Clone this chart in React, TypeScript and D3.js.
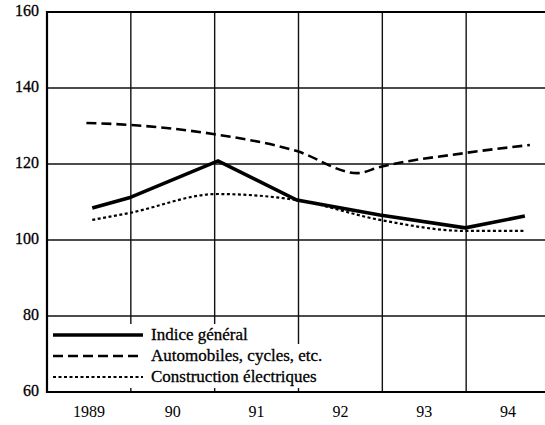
import React, { useEffect, useRef } from "react"
import * as d3 from "d3"

// years as fractional positions (grid lines are year boundaries)
const yearsGeneral = [1989.54, 1989.98, 1991.04, 1991.98, 1992.97, 1993.99, 1994.7]
const indiceGeneral = [108.4, 111.1, 120.8, 110.5, 106.6, 103.2, 106.3]

const yearsAuto = [1989.47, 1989.98, 1990.98, 1991.98, 1992.7, 1992.97, 1993.99, 1994.76]
const automobiles = [130.8, 130.3, 127.9, 123.4, 117.6, 119.2, 122.9, 125.0]

const yearsElec = [1989.54, 1989.98, 1991.03, 1991.98, 1992.97, 1993.99, 1994.7]
const electriques = [105.3, 107.1, 112.1, 110.5, 105.3, 102.4, 102.4]

const yearLabels = ["1989", "90", "91", "92", "93", "94"]
const yTicks = [60, 80, 100, 120, 140, 160]
const legendLabels = ["Indice général", "Automobiles, cycles, etc.", "Construction électriques"]

const W = 545
const H = 425
const FONT = "Liberation Serif, Tinos, Times New Roman, Times, DejaVu Serif, serif"

export default function App() {
  const ref = useRef<SVGSVGElement>(null)

  useEffect(() => {
    const svg = d3.select(ref.current)
    svg.selectAll("*").remove()

    const x = d3.scaleLinear().domain([1989, 1995]).range([47, 550])
    const y = d3.scaleLinear().domain([60, 160]).range([392, 12])

    const g = svg.append("g")

    // grid
    g.selectAll(".hgrid")
      .data(yTicks.filter(d => d > 60 && d < 160))
      .enter()
      .append("line")
      .attr("x1", x(1989))
      .attr("x2", W + 10)
      .attr("y1", d => y(d))
      .attr("y2", d => y(d))
      .attr("stroke", "#111")
      .attr("stroke-width", 1.4)

    g.selectAll(".vgrid")
      .data(d3.range(1990, 1996))
      .enter()
      .append("line")
      .attr("x1", d => x(d))
      .attr("x2", d => x(d))
      .attr("y1", y(160))
      .attr("y2", y(60))
      .attr("stroke", "#111")
      .attr("stroke-width", 1.4)

    // series
    const series = [
      { xs: yearsGeneral, vs: indiceGeneral, width: 3.6, dash: null, curve: d3.curveLinear },
      { xs: yearsAuto, vs: automobiles, width: 2.6, dash: "10,5", curve: d3.curveMonotoneX },
      { xs: yearsElec, vs: electriques, width: 2.2, dash: "3,2.5", curve: d3.curveMonotoneX },
    ]

    series.forEach(s => {
      const line = d3
        .line<number>()
        .x((d, i) => x(s.xs[i]))
        .y(d => y(d))
        .curve(s.curve)
      g.append("path")
        .datum(s.vs)
        .attr("d", line)
        .attr("fill", "none")
        .attr("stroke", "#000")
        .attr("stroke-width", s.width)
        .attr("stroke-dasharray", s.dash)
    })

    // legend with white backing over the grid
    const leg = g.append("g")
    leg.append("rect").attr("x", 49).attr("y", 324).attr("width", 205).attr("height", 22).attr("fill", "#fff")
    leg.append("rect").attr("x", 49).attr("y", 344).attr("width", 290).attr("height", 44).attr("fill", "#fff")

    const rowY = [335, 356, 377]
    legendLabels.forEach((lab, i) => {
      const s = series[i]
      leg.append("line")
        .attr("x1", 53)
        .attr("x2", 143)
        .attr("y1", rowY[i])
        .attr("y2", rowY[i])
        .attr("stroke", "#000")
        .attr("stroke-width", s.width)
        .attr("stroke-dasharray", s.dash)
      leg.append("text")
        .attr("x", 151)
        .attr("y", rowY[i] + 5)
        .attr("font-family", FONT)
        .attr("font-size", 17)
        .attr("fill", "#000")
        .attr("stroke", "#000")
        .attr("stroke-width", 0.3)
        .text(lab)
    })

    // frame
    g.append("line").attr("x1", x(1989)).attr("x2", W + 10).attr("y1", y(160)).attr("y2", y(160))
      .attr("stroke", "#000").attr("stroke-width", 2)
    g.append("line").attr("x1", x(1989)).attr("x2", W + 10).attr("y1", y(60)).attr("y2", y(60))
      .attr("stroke", "#000").attr("stroke-width", 2)
    g.append("line").attr("x1", x(1989)).attr("x2", x(1989)).attr("y1", y(160) - 1).attr("y2", y(60) + 1)
      .attr("stroke", "#000").attr("stroke-width", 2.2)

    // y labels
    g.selectAll(".ylab")
      .data(yTicks)
      .enter()
      .append("text")
      .attr("x", 39)
      .attr("y", d => y(d) + 4)
      .attr("text-anchor", "end")
      .attr("font-family", FONT)
      .attr("font-size", 16)
      .attr("fill", "#000")
      .attr("stroke", "#000")
      .attr("stroke-width", 0.3)
      .text(d => d)

    // x labels centred in each year
    g.selectAll(".xlab")
      .data(yearLabels)
      .enter()
      .append("text")
      .attr("x", (d, i) => x(1989 + i + 0.5))
      .attr("y", 417)
      .attr("text-anchor", "middle")
      .attr("font-family", FONT)
      .attr("font-size", 16)
      .attr("fill", "#000")
      .text(d => d)
  }, [])

  return (
    <svg
      ref={ref}
      width={W}
      height={H}
      style={{ position: "absolute", left: 0, top: 0, background: "#fff" }}
    />
  )
}
